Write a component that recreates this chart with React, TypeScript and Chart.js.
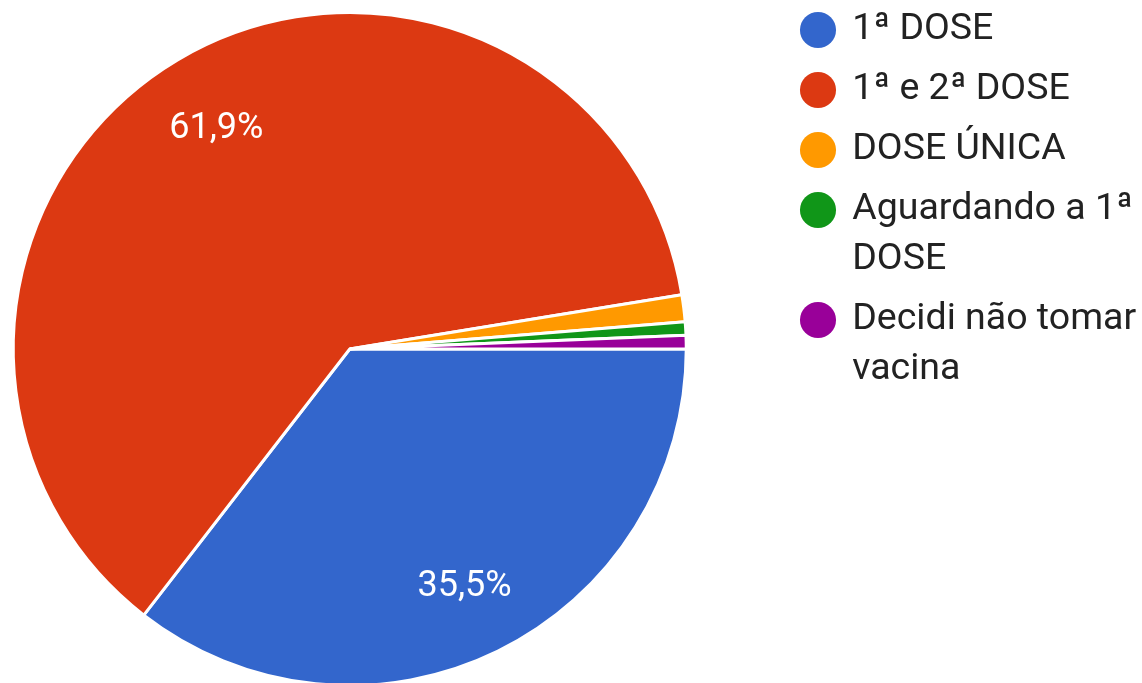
import React, { useEffect, useRef } from 'react';
import { Chart, registerables } from 'chart.js';

Chart.register(...registerables);

const categories = ['1ª DOSE', '1ª e 2ª DOSE', 'DOSE ÚNICA', 'Aguardando a 1ª DOSE', 'Decidi não tomar vacina'];
const responses = [55, 96, 2, 1, 1];
const sliceColors = ['#3366CC', '#DC3912', '#FF9900', '#109618', '#990099'];

const FONT_FAMILY = 'Roboto';
const LEGEND_FONT_SIZE = 37.5;
const LEGEND_LINE_HEIGHT = 50;
const LEGEND_PADDING = 10;
const LEGEND_BOX_WIDTH = 31;
const LEGEND_BOX_HEIGHT = 25.5;
const LEGEND_TEXT_MAX = 292;
const SLICE_LABEL_SIZE = 36;

// canvas is shifted left so the pie sits where the reference has it
const SHIFT = 93;
const LEGEND_LEFT = 792.5 + SHIFT; // canvas coordinates
const PAGE_RIGHT = 1142 + SHIFT;
const CANVAS_HEIGHT = 700;
const PAD_TOP = 1.25;
const PAD_BOTTOM = 3.25;

function wrapText(ctx: CanvasRenderingContext2D, text: string, maxWidth: number): string[] {
  const words = text.split(' ');
  const lines: string[] = [];
  let current = '';
  for (const w of words) {
    const candidate = current ? current + ' ' + w : w;
    if (current && ctx.measureText(candidate).width > maxWidth) {
      lines.push(current);
      current = w;
    } else {
      current = candidate;
    }
  }
  if (current) lines.push(current);
  return lines;
}

const sliceLabels = {
  id: 'sliceLabels',
  afterDatasetsDraw(chart: any) {
    const meta = chart.getDatasetMeta(0);
    const data = chart.data.datasets[0].data as number[];
    const total = data.reduce((a: number, b: number) => a + b, 0);
    const ctx = chart.ctx as CanvasRenderingContext2D;
    ctx.save();
    ctx.font = `${SLICE_LABEL_SIZE}px ${FONT_FAMILY}`;
    ctx.fillStyle = '#ffffff';
    ctx.textAlign = 'center';
    ctx.textBaseline = 'alphabetic';
    meta.data.forEach((arc: any, i: number) => {
      const pct = (data[i] / total) * 100;
      if (pct < 5) return;
      const { x, y, startAngle, endAngle, outerRadius } = arc.getProps(
        ['x', 'y', 'startAngle', 'endAngle', 'outerRadius'],
        true
      );
      const mid = (startAngle + endAngle) / 2;
      const r = outerRadius * 0.775;
      const cx = x + Math.cos(mid) * r;
      const cy = y + Math.sin(mid) * r;
      ctx.fillText(pct.toFixed(1).replace('.', ',') + '%', cx, cy + SLICE_LABEL_SIZE * 0.711 / 2);
    });
    ctx.restore();
  },
};

export default function App() {
  const canvasRef = useRef<HTMLCanvasElement | null>(null);

  useEffect(() => {
    let chart: Chart | null = null;
    let cancelled = false;
    const build = () => {
      const canvas = canvasRef.current;
      if (cancelled || !canvas) return;
      // measure legend width the same way Chart.js does, to place the legend exactly
      const mctx = document.createElement('canvas').getContext('2d') as CanvasRenderingContext2D;
      mctx.font = `${LEGEND_FONT_SIZE}px ${FONT_FAMILY}`;
      let longest = '';
      categories.forEach((c) => {
        wrapText(mctx, c, LEGEND_TEXT_MAX).forEach((l) => {
          if (l.length > longest.length) longest = l;
        });
      });
      const itemWidth = LEGEND_BOX_WIDTH + LEGEND_FONT_SIZE / 2 + mctx.measureText(longest).width;
      const legendWidth = LEGEND_PADDING + itemWidth + 10;
      const canvasWidth = Math.ceil(Math.max(LEGEND_LEFT + legendWidth + 40, PAGE_RIGHT));
      const padRight = canvasWidth - LEGEND_LEFT - legendWidth;
      canvas.width = canvasWidth;
      canvas.height = CANVAS_HEIGHT;
      canvas.style.width = canvasWidth + 'px';
      canvas.style.height = CANVAS_HEIGHT + 'px';

      chart = new Chart(canvas, {
        type: 'pie',
        data: {
          labels: categories,
          datasets: [
            {
              data: responses,
              backgroundColor: sliceColors,
              borderColor: '#ffffff',
              borderWidth: 3,
              radius: 336.5,
            } as any,
          ],
        },
        options: {
          animation: false,
          responsive: false,
          rotation: 90,
          layout: { padding: { top: PAD_TOP, bottom: PAD_BOTTOM, left: 0, right: padRight } },
          plugins: {
            tooltip: { enabled: false },
            legend: {
              position: 'right',
              align: 'start',
              maxWidth: 2000,
              labels: {
                usePointStyle: true,
                pointStyle: 'circle',
                boxWidth: LEGEND_BOX_WIDTH,
                boxHeight: LEGEND_BOX_HEIGHT,
                padding: LEGEND_PADDING,
                color: '#222222',
                font: { family: FONT_FAMILY, size: LEGEND_FONT_SIZE, lineHeight: LEGEND_LINE_HEIGHT / LEGEND_FONT_SIZE },
                generateLabels: (c: any) => {
                  const base = (Chart as any).overrides.pie.plugins.legend.labels.generateLabels(c);
                  const ctx = c.ctx as CanvasRenderingContext2D;
                  ctx.save();
                  ctx.font = `${LEGEND_FONT_SIZE}px ${FONT_FAMILY}`;
                  base.forEach((item: any) => {
                    item.text = wrapText(ctx, item.text, LEGEND_TEXT_MAX);
                    item.lineWidth = 0;
                  });
                  ctx.restore();
                  return base;
                },
              },
            } as any,
          },
        },
        plugins: [sliceLabels],
      });
    };
    const fonts = (document as any).fonts;
    if (fonts && fonts.load) {
      Promise.all([
        fonts.load(`${LEGEND_FONT_SIZE}px ${FONT_FAMILY}`),
        fonts.load(`${SLICE_LABEL_SIZE}px ${FONT_FAMILY}`),
      ]).then(build, build);
    } else {
      build();
    }
    return () => {
      cancelled = true;
      if (chart) chart.destroy();
    };
  }, []);

  return (
    <div
      style={{
        position: 'fixed',
        left: 0,
        top: 0,
        width: 1142,
        height: 683,
        overflow: 'hidden',
        background: '#ffffff',
      }}
    >
      <canvas
        ref={canvasRef}
        width={PAGE_RIGHT}
        height={CANVAS_HEIGHT}
        style={{ display: 'block', position: 'absolute', left: -SHIFT, top: 0 }}
      />
    </div>
  );
}
